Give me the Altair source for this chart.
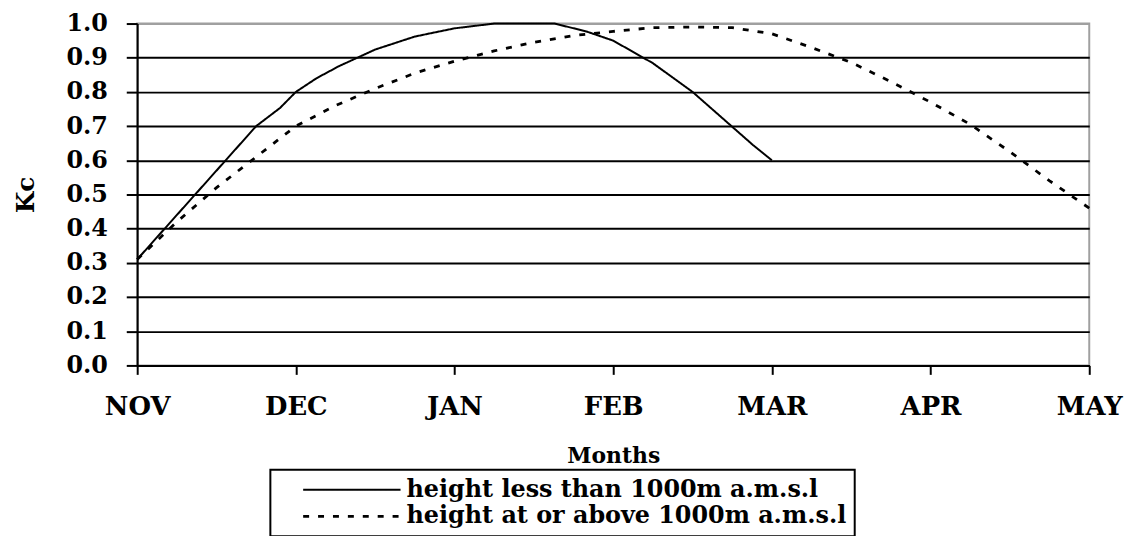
import altair as alt
import pandas as pd

months = ["NOV", "DEC", "JAN", "FEB", "MAR", "APR", "MAY"]
series_names = ["height less than 1000m a.m.s.l", "height at or above 1000m a.m.s.l"]

# months elapsed since start of November
low_x = [0, 0.75, 0.9, 1.0, 1.13, 1.27, 1.5, 1.75, 2.0, 2.25, 2.63, 2.83, 3.0, 3.25, 3.5, 3.88, 4.0]
low_kc = [0.31, 0.70, 0.753, 0.80, 0.84, 0.875, 0.924, 0.962, 0.986, 1.0, 1.0, 0.977, 0.95, 0.884, 0.80, 0.645, 0.60]

high_x = [0, 0.25, 0.5, 0.75, 1.0, 1.25, 1.5, 1.75, 2.0, 2.25, 2.5, 2.75, 3.0, 3.25, 3.5,
          3.75, 4.0, 4.25, 4.5, 4.75, 5.0, 5.25, 5.5, 5.75, 6.0]
high_kc = [0.31, 0.42, 0.52, 0.61, 0.70, 0.76, 0.81, 0.855, 0.89, 0.92, 0.945, 0.965, 0.977, 0.988, 0.99,
           0.988, 0.97, 0.93, 0.886, 0.83, 0.77, 0.705, 0.625, 0.54, 0.46]

y_ticks = [0.0, 0.1, 0.2, 0.3, 0.4, 0.5, 0.6, 0.7, 0.8, 0.9, 1.0]

df = pd.concat([
    pd.DataFrame({"month": low_x, "Kc": low_kc, "series": series_names[0]}),
    pd.DataFrame({"month": high_x, "Kc": high_kc, "series": series_names[1]}),
])

FONT = "DejaVu Serif"
label_expr = "[" + ",".join("'%s'" % m for m in months) + "][round(datum.value)]"

chart = alt.Chart(df).mark_line(color="black", clip=False).encode(
    x=alt.X("month:Q",
            scale=alt.Scale(domain=[0, len(months) - 1], nice=False, zero=False),
            axis=alt.Axis(title="Months", values=list(range(len(months))), labelExpr=label_expr,
                          grid=False, domainColor="black", domainWidth=2,
                          tickColor="black", tickWidth=2, tickSize=9,
                          labelFont=FONT, labelFontWeight="bold", labelFontSize=26,
                          labelColor="black", labelPadding=19,
                          titleFont=FONT, titleFontWeight="bold", titleFontSize=22,
                          titleColor="black", titlePadding=27, labelFlush=False)),
    y=alt.Y("Kc:Q",
            scale=alt.Scale(domain=[0, 1], nice=False),
            axis=alt.Axis(title="Kc", values=y_ticks, format=".1f",
                          grid=True, gridWidth=2,
                          gridColor={"condition": {"test": "datum.value >= 0.99", "value": "#a0a0a0"},
                                     "value": "black"},
                          domainColor="black", domainWidth=2,
                          tickColor="black", tickWidth=2, tickSize=11,
                          labelFont=FONT, labelFontWeight="bold", labelFontSize=24,
                          labelColor="black", labelPadding=19,
                          titleFont=FONT, titleFontWeight="bold", titleFontSize=25,
                          titleColor="black", titlePadding=28)),
    strokeDash=alt.StrokeDash("series:N",
                              scale=alt.Scale(domain=series_names, range=[[1, 0], [6, 9]]),
                              legend=alt.Legend(title=None, orient="none", legendX=134, legendY=449,
                                                symbolType="M1.3,0L11.1,0", symbolSize=400,
                                                symbolStrokeWidth=2, symbolStrokeColor="black",
                                                labelOffset=105, labelFont=FONT, labelFontWeight="bold",
                                                labelFontSize=24, labelColor="black", labelLimit=0,
                                                padding=8, rowPadding=3, strokeColor="black")),
    strokeWidth=alt.StrokeWidth("series:N",
                                scale=alt.Scale(domain=series_names, range=[2, 2.8]),
                                legend=None),
).properties(
    width=958, height=344,
    autosize=alt.AutoSizeParams(type="none"),
    padding={"left": 130, "top": 14, "right": 40, "bottom": 170},
).configure_view(
    stroke="#a0a0a0", strokeWidth=2
).configure_legend(
    strokeWidth=2
)

chart.save("out.html", embed_options={"renderer": "svg", "actions": False})
